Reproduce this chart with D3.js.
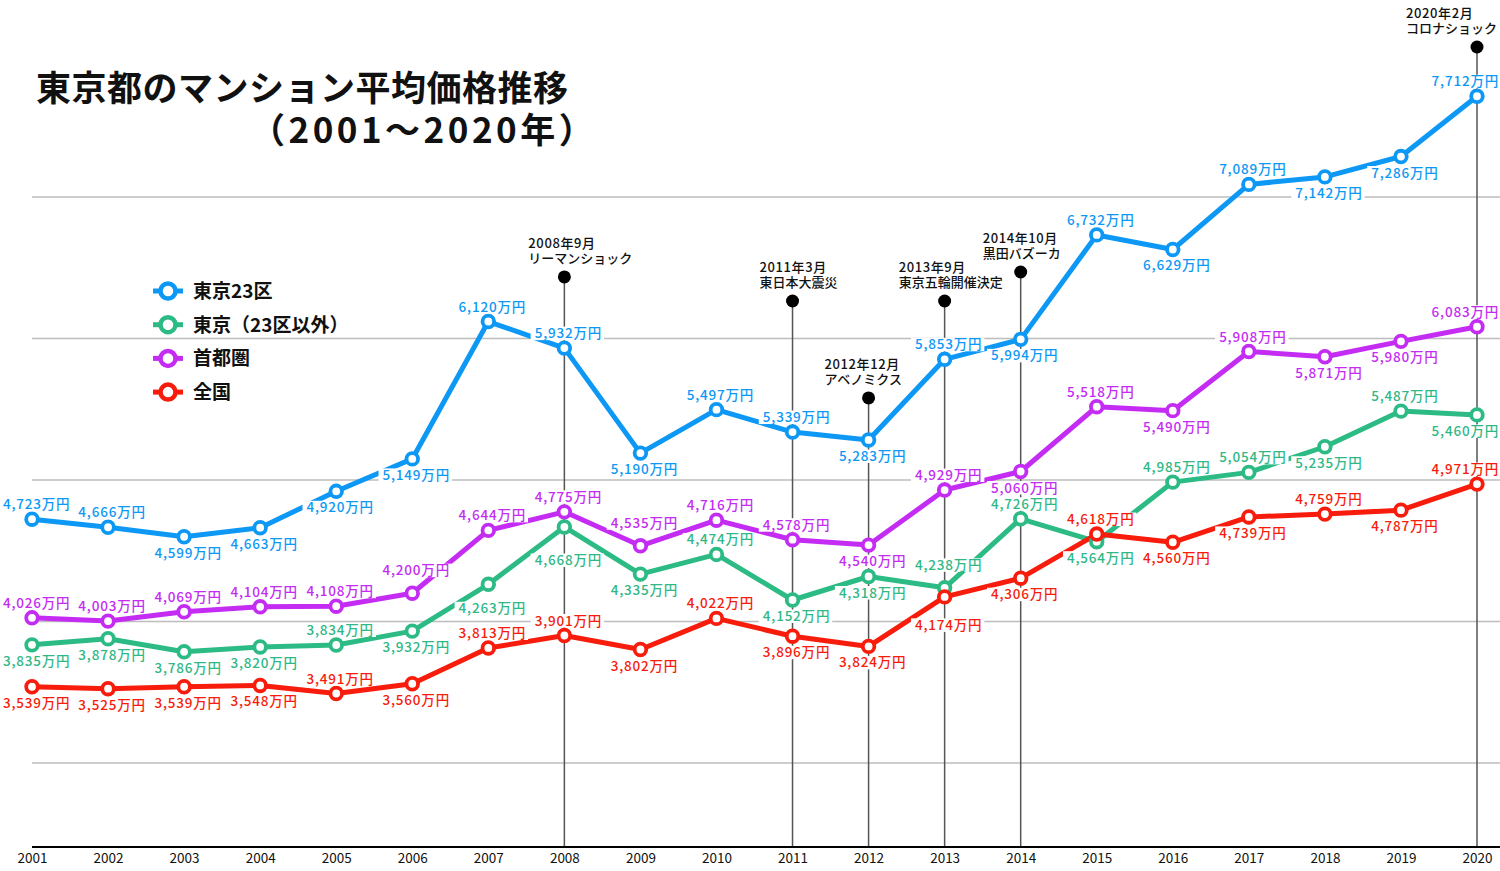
<!DOCTYPE html>
<html><head><meta charset="utf-8">
<script src="https://cdn.jsdelivr.net/npm/d3@7"></script>
<style>
html,body{margin:0;padding:0;background:#fff;}
svg{display:block;font-family:"Noto Sans CJK JP","Noto Sans",sans-serif;}
</style></head>
<body><svg id="c" width="1500" height="871"></svg>
<script>
const years = [2001,2002,2003,2004,2005,2006,2007,2008,2009,2010,2011,2012,2013,2014,2015,2016,2017,2018,2019,2020];
const tokyo23 = [4723,4666,4599,4663,4920,5149,6120,5932,5190,5497,5339,5283,5853,5994,6732,6629,7089,7142,7286,7712];
const tokyoOther = [3835,3878,3786,3820,3834,3932,4263,4668,4335,4474,4152,4318,4238,4726,4564,4985,5054,5235,5487,5460];
const shutoken = [4026,4003,4069,4104,4108,4200,4644,4775,4535,4716,4578,4540,4929,5060,5518,5490,5908,5871,5980,6083];
const zenkoku = [3539,3525,3539,3548,3491,3560,3813,3901,3802,4022,3896,3824,4174,4306,4618,4560,4739,4759,4787,4971];
const seriesNames = ["東京23区","東京（23区以外）","首都圏","全国"];
const gridValues = [3000,4000,5000,6000,7000];
const eventYears = [2008,2011,2012,2013,2014,2020];
const eventDates = ["2008年9月","2011年3月","2012年12月","2013年9月","2014年10月","2020年2月"];
const eventNames = ["リーマンショック","東日本大震災","アベノミクス","東京五輪開催決定","黒田バズーカ","コロナショック"];
const eventHeights = [6435,6265,5580,6265,6470,8060];

// layout: label placement per point (a = above, b = below, A/B/C/D = further away)
const placement = [
  ["a","a","b","b","b","b","a","a","b","a","a","b","a","b","a","b","a","b","b","a"],
  ["b","b","b","b","a","b","B","C","b","a","b","b","A","a","b","a","a","b","a","b"],
  ["a","a","a","a","a","A","a","a","A","a","a","b","a","b","a","b","a","b","b","a"],
  ["b","b","b","b","a","b","a","a","b","a","b","b","D","b","a","b","b","a","b","a"]
];
const offsets = {a:-10, b:21, A:-18, B:29, C:38, D:33};
const colors = ["#0d98f5","#2cbb84","#c42cf3","#f71c0b"];
const labelColors = ["#0d98f5","#2fb886","#c42cf3","#f71c0b"];
const eventDx = [-36,-33,-44,-46,-38,-71];

const svg = d3.select("#c");
const x = d3.scaleLinear().domain([2001,2020]).range([32,1477]);
const y = d3.scaleLinear().domain([3000,7000]).range([763,197]);
const axisY = 847;

// gridlines
svg.append("g").selectAll("line").data(gridValues).join("line")
  .attr("x1",32).attr("x2",1500).attr("y1",d=>y(d)).attr("y2",d=>y(d))
  .attr("stroke","#bdbdbd").attr("stroke-width",1.5);

// event lines
const ev = svg.append("g");
eventYears.forEach((yr,i)=>{
  const cx = x(yr), cy = y(eventHeights[i]);
  ev.append("line").attr("x1",cx).attr("x2",cx).attr("y1",cy).attr("y2",axisY)
    .attr("stroke","#555").attr("stroke-width",1.5);
  ev.append("circle").attr("cx",cx).attr("cy",cy).attr("r",6.5).attr("fill","#000");
  ev.append("text").attr("font-size",13).attr("fill","#111").attr("font-weight",500)
    .attr("x",cx+eventDx[i]).attr("y",cy-29).attr("letter-spacing",0.6).text(eventDates[i]);
  ev.append("text").attr("font-size",13).attr("fill","#111").attr("font-weight",500)
    .attr("x",cx+eventDx[i]).attr("y",cy-14).text(eventNames[i]);
});

// axis
svg.append("line").attr("x1",32).attr("x2",1500).attr("y1",axisY).attr("y2",axisY)
  .attr("stroke","#000").attr("stroke-width",2);
const ax = svg.append("g").attr("transform",`translate(0,${axisY})`)
  .call(d3.axisBottom(x).tickValues(years).tickFormat(d3.format("d")).tickSize(0).tickPadding(6));
ax.select(".domain").remove();
ax.selectAll("text").attr("font-size",13.5).attr("fill","#111")
  .attr("font-family","'Noto Sans CJK JP',sans-serif");

const allSeries = [tokyo23,tokyoOther,shutoken,zenkoku];
const line = d3.line().x((d,i)=>x(years[i])).y(d=>y(d));

// lines
allSeries.forEach((s,k)=>{
  svg.append("path").datum(s).attr("d",line).attr("fill","none")
    .attr("stroke",colors[k]).attr("stroke-width",5).attr("stroke-linejoin","round");
});
// markers
allSeries.forEach((s,k)=>{
  svg.append("g").selectAll("circle").data(s).join("circle")
    .attr("cx",(d,i)=>x(years[i])).attr("cy",d=>y(d)).attr("r",5.8)
    .attr("fill","#fff").attr("stroke",colors[k]).attr("stroke-width",3.8);
});
// labels
const fmt = d3.format(",");
const lg = svg.append("g");
allSeries.forEach((s,k)=>{
  s.forEach((v,i)=>{
    const off = offsets[placement[k][i]];
    const g = lg.append("g");
    const by = y(v)+off;
    const t = g.append("text").attr("font-size",13.5).attr("font-weight",500)
      .attr("letter-spacing",0.8)
      .attr("fill",labelColors[k]).attr("text-anchor","middle")
      .attr("x",x(years[i])+4).attr("y",by).text(fmt(v)+"万円");
    let bb = t.node().getBBox();
    let shift = 0;
    if (bb.x + bb.width > 1499) shift = 1499 - (bb.x + bb.width);
    if (bb.x < 3) shift = 3 - bb.x;
    t.attr("x", x(years[i])+4+shift);
    bb = t.node().getBBox();
    g.insert("rect","text").attr("x",bb.x-4).attr("y",by-11.5).attr("width",bb.width+6).attr("height",13.5)
      .attr("fill","#fff");
  });
});

// title
svg.append("text").attr("x",36).attr("y",101).attr("font-size",35).attr("font-weight",700)
  .attr("fill","#111").attr("letter-spacing",0.5).text("東京都のマンション平均価格推移");
svg.append("text").attr("x",250).attr("y",143).attr("font-size",35).attr("font-weight",700)
  .attr("fill","#111").attr("letter-spacing",3.5).text("（2001〜2020年）");

// legend
const leg = svg.append("g");
seriesNames.forEach((n,k)=>{
  const ly = 291 + k*33.7;
  leg.append("line").attr("x1",153).attr("x2",183).attr("y1",ly).attr("y2",ly)
    .attr("stroke",colors[k]).attr("stroke-width",5);
  leg.append("circle").attr("cx",168).attr("cy",ly).attr("r",7.5)
    .attr("fill","#fff").attr("stroke",colors[k]).attr("stroke-width",4.5);
  leg.append("text").attr("x",193).attr("y",ly+7).attr("font-size",19).attr("font-weight",700)
    .attr("fill","#111").text(n);
});
</script></body></html>
